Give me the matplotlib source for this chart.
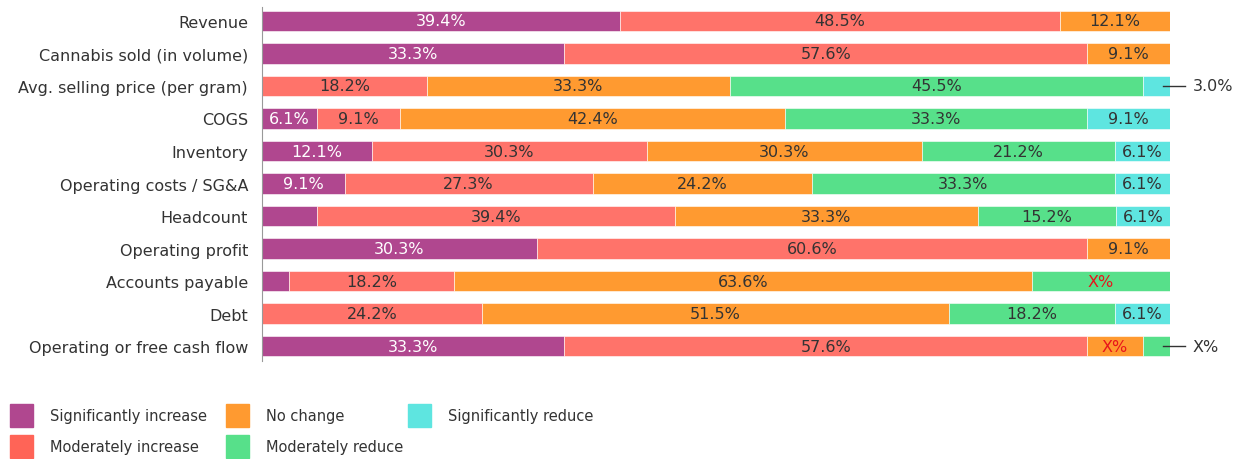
import numpy as np
import matplotlib
matplotlib.use("Agg")
import matplotlib.pyplot as plt
from matplotlib.patches import Rectangle

categories = ["Revenue", "Cannabis sold (in volume)", "Avg. selling price (per gram)",
              "COGS", "Inventory", "Operating costs / SG&A", "Headcount",
              "Operating profit", "Accounts payable", "Debt",
              "Operating or free cash flow"]

series = ["Significantly increase", "Moderately increase", "No change",
          "Moderately reduce", "Significantly reduce"]

sig_increase = [39.4, 33.3, 0.0, 6.1, 12.1, 9.1, 6.1, 30.3, 3.0, 0.0, 33.3]
mod_increase = [48.5, 57.6, 18.2, 9.1, 30.3, 27.3, 39.4, 60.6, 18.2, 24.2, 57.6]
no_change = [12.1, 9.1, 33.3, 42.4, 30.3, 24.2, 33.3, 9.1, 63.6, 51.5, 6.1]
mod_reduce = [0.0, 0.0, 45.5, 33.3, 21.2, 33.3, 15.2, 0.0, 15.2, 18.2, 3.0]
sig_reduce = [0.0, 0.0, 3.0, 9.1, 6.1, 6.1, 6.1, 0.0, 0.0, 6.1, 0.0]

# label text per segment ("" = no label), otherwise the value is printed
labels = {
    (6, 0): "", (8, 0): "", (8, 3): "X%", (10, 2): "X%", (10, 3): "",
    (2, 4): "",
}
# labels drawn outside the bar with a leader line
outside = {2: "3.0%", 10: "X%"}

colors = ["#B0478F", "#FF736A", "#FF9A30", "#57E08A", "#5EE5E0"]
legend_colors = ["#B0478F", "#FF6457", "#FF9A30", "#57E08A", "#5EE5E0"]

plt.rcParams["font.family"] = ["DejaVu Sans"]

fig = plt.figure(figsize=(12.45, 4.6), dpi=100)
ax = fig.add_axes([262 / 1245, 1 - 362 / 460, (1170 - 262) / 1245, 354 / 460])

data = np.array([sig_increase, mod_increase, no_change, mod_reduce, sig_reduce])
y = np.arange(len(categories))
left = np.zeros(len(categories))
for j in range(len(series)):
    vals = data[j]
    ax.barh(y, vals, left=left, height=0.62, color=colors[j], edgecolor="white",
            linewidth=0.4)
    for i, v in enumerate(vals):
        if v <= 0:
            continue
        txt = labels.get((i, j), "%.1f%%" % v)
        if txt == "":
            continue
        tcol = "white" if j == 0 else "#333333"
        if txt == "X%":
            tcol = "#E8141B"
        ax.text(left[i] + v / 2, i, txt, ha="center", va="center",
                fontsize=11.5, color=tcol)
    left = left + vals

for i, txt in outside.items():
    ax.plot([99.2, 101.7], [i, i], color="#333333", lw=1, clip_on=False)
    ax.text(102.5, i, txt, ha="left", va="center", fontsize=11.5, color="#333333")

ax.set_xlim(0, 100)
ax.set_ylim(10.46, -0.43)
ax.set_yticks(y)
ax.set_yticklabels(categories, fontsize=11.5, color="#333333")
ax.tick_params(axis="y", length=0, pad=10)
ax.set_xticks([])
for s in ["top", "right", "bottom"]:
    ax.spines[s].set_visible(False)
ax.spines["left"].set_color("#999999")

# legend, drawn by hand (columns are not evenly spaced)
leg_pos = [(10, 405), (10, 436), (226, 405), (226, 436), (408, 405)]
for (px, py), name, c in zip(leg_pos, series, legend_colors):
    fig.add_artist(Rectangle((px / 1245, 1 - (py + 23) / 460), 23 / 1245, 23 / 460,
                             transform=fig.transFigure, color=c))
    fig.text((px + 40) / 1245, 1 - (py + 12) / 460, name, fontsize=10.5,
             color="#333333", va="center", ha="left")

fig.savefig("out.png", dpi=100)
